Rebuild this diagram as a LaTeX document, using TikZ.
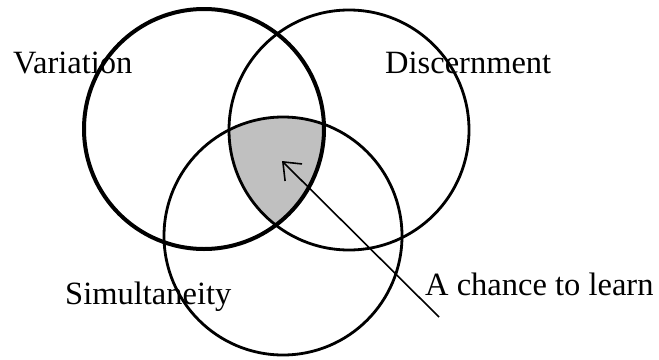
\documentclass[tikz,border=0pt]{standalone}
\usepackage{fontspec}
\setmainfont{Liberation Serif}
\usetikzlibrary{arrows.meta}
\definecolor{regiongray}{HTML}{C0C0C0}
\tikzset{
  lbl/.style={inner sep=0pt, anchor=base west, font=\fontsize{32.5}{38}\selectfont},
  ring/.style={draw=black, line width=2.8pt},
  thickring/.style={draw=black, line width=4pt},
  pointer/.style={draw=black, line width=1.6pt, -{Straight Barb[length=15pt,width=24pt,line width=1.6pt]}}
}
\begin{document}
\begin{tikzpicture}[x=1pt,y=-1pt]
\useasboundingbox (0,0) rectangle (659,359);
\coordinate (cV) at (204,129);
\coordinate (cD) at (349,130);
\coordinate (cS) at (283,236);
\begin{scope}
  \clip (cV) circle (120);
  \clip (cD) circle (120);
  \fill[fill=regiongray] (cS) circle (119);
\end{scope}
\path[thickring] (cV) circle (120);
\path[ring] (cD) circle (120);
\path[ring] (cS) circle (119);
\node[lbl] (variation) at (13,73) {Variation};
\node[lbl] (discernment) at (385,73) {Discernment};
\node[lbl] (simultaneity) at (65,304) {Simultaneity};
\node[lbl] (chance) at (425,295) {A chance to learn};
\coordinate (tail) at (439,317);
\coordinate (tip) at (282,161);
\draw[pointer] (tail) -- (tip);
\end{tikzpicture}
\end{document}
